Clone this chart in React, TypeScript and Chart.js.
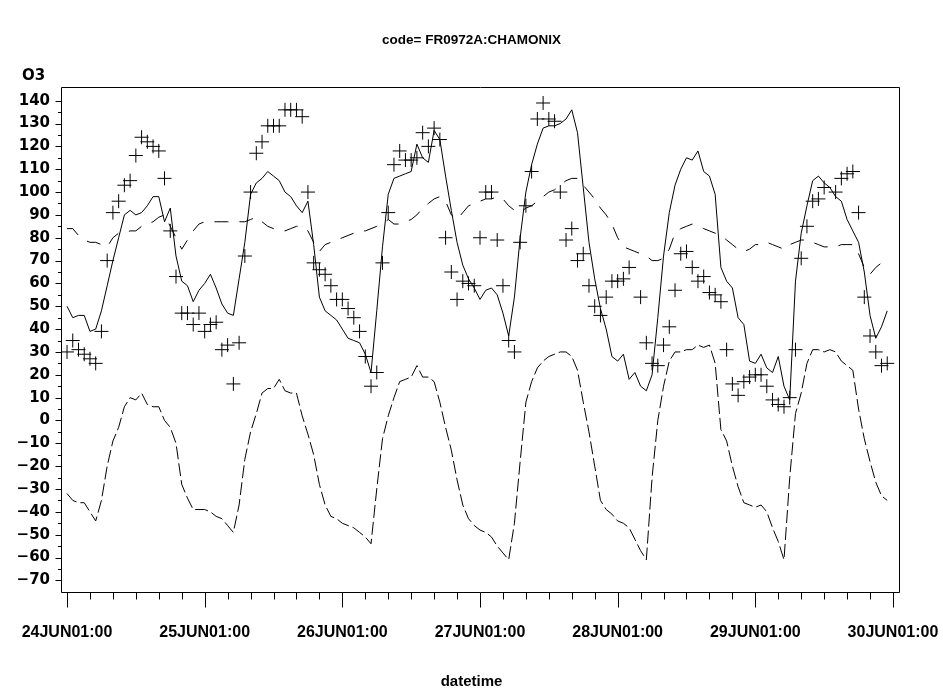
import React, { useEffect, useRef } from 'react';
import { Chart, registerables } from 'chart.js';

Chart.register(...registerables);

// ---- text ----
const TITLE = 'code= FR0972A:CHAMONIX';
const Y_TITLE = 'O3';
const X_TITLE = 'datetime';

// ---- axes ----
const X_TICK_HOURS = [0, 24, 48, 72, 96, 120, 144];
const X_TICK_LABELS = ['24JUN01:00', '25JUN01:00', '26JUN01:00', '27JUN01:00', '28JUN01:00', '29JUN01:00', '30JUN01:00'];
const Y_TICKS = [-70, -60, -50, -40, -30, -20, -10, 0, 10, 20, 30, 40, 50, 60, 70, 80, 90, 100, 110, 120, 130, 140];

// ---- series (hourly, from 24JUN01:00) ----
const predicted = [
  50, 45, 46, 46, 39, 40, 48, 59, 70, 80,
  90, 92, 90, 91, 94, 98, 98, 87, 93, 72,
  61, 59, 52, 57, 60, 64, 58, 51, 47, 46,
  62, 78, 99, 104, 106, 109, 107, 105, 100, 98,
  94, 91, 96, 77, 54, 48, 46, 44, 40, 36,
  35, 34, 29, 21, 48, 76, 99, 106, 107, 108,
  109, 121, 115, 113, 127, 123, 107, 92, 78, 68,
  62, 58, 53, 57, 58, 55, 47, 37, 54, 80,
  100, 112, 121, 128, 129, 129, 130, 132, 136, 126,
  102, 78, 62, 49, 40, 28, 26, 29, 18, 21,
  15, 13, 20, 45, 72, 91, 103, 110, 115, 114,
  118, 109, 107, 99, 67, 61, 58, 45, 42, 26,
  25, 29, 23, 21, 28, 15, 9, 61, 82, 94,
  105, 107, 104, 102, 98, 96, 88, 83, 78, 65,
  46, 36, 41, 48,
];

const upperBound = [
  84, 84, 81, 79, 78, 78, 77, 76, 80, 82,
  82, 83, 83, 85, 86, 87, 89, 90, 85, 80,
  75, 79, 83, 86, 87, 87, 87, 87, 87, 87,
  87, 87, 88, 89, 87, 85, 84, 83, 83, 84,
  85, 85, 83, 78, 74, 77, 78, 79, 80, 81,
  82, 83, 83, 84, 85, 86, 88, 86, 86, 87,
  88, 90, 93, 95, 97, 98, 96, 90, 88, 91,
  94, 95, 96, 97, 97, 98, 97, 94, 92, 91,
  93, 94, 96, 98, 100, 101, 103, 105, 106, 106,
  103, 100, 97, 93, 90, 86, 80, 76, 75, 74,
  73, 72, 70, 70, 71, 75, 82, 84, 85, 86,
  85, 84, 83, 82, 81, 79, 77, 75, 74, 75,
  77, 77, 78, 77, 76, 75, 77, 78, 79, 79,
  78, 77, 76, 76, 76, 77, 77, 77, 73, 67,
  64, 67, 69, 70,
];

const lowerBound = [
  -32, -35, -36, -36, -40, -44, -35, -20, -9, -3,
  6, 10, 9, 12, 7, 6, 6, 0, -3, -10,
  -28, -34, -39, -39, -39, -40, -42, -43, -46, -49,
  -37, -17, -5, 3, 12, 14, 14, 18, 13, 12,
  12, 2, -6, -15, -28, -37, -42, -43, -45, -46,
  -47, -49, -51, -54, -30, -8, 2, 10, 17, 18,
  19, 24, 19, 19, 17, 8, -3, -13, -26, -37,
  -43, -46, -48, -49, -51, -55, -58, -61, -45, -18,
  8, 17, 23, 26, 28, 29, 30, 30, 28, 22,
  8, -5, -20, -35, -39, -41, -44, -45, -47, -52,
  -57, -61, -25, 0, 15, 26, 30, 30, 31, 31,
  33, 32, 33, 25, -4, -9, -20, -29, -36, -37,
  -38, -37, -40, -47, -53, -61, -25, 3, 12, 25,
  31, 31, 30, 31, 30, 26, 24, 22, 5, -8,
  -18, -27, -33, -35,
];

const observed: (number | null)[] = [
  30, 35, 31, 29, 27, 25, 39, 70, 91, 96,
  103, 105, 116, 124, 122, 120, 118, 106, 83, 63,
  47, 47, 42, 47, 39, 42, 43, 31, 33, 16,
  34, 72, 100, 117, 122, 129, 129, 129, 136, 136,
  136, 133, 100, 69, 66, 64, 59, 53, 53, 49,
  45, 39, 28, 15, 21, 69, 91, 112, 118, 114,
  114, 115, 126, 120, 128, 123, 80, 65, 53, 61,
  60, 59, 80, 100, 100, 79, 59, 35, 30, 78,
  94, 109, 132, 139, 132, 131, 100, 79, 84, 70,
  73, 59, 50, 46, 54, 61, 61, 62, 67, null,
  54, 34, 25, 24, 33, 41, 57, 73, 74, 67,
  61, 63, 56, 55, 52, 31, 16, 11, 17, 19,
  20, 20, 15, 9, 7, 6, 10, 31, 71, 85,
  96, 97, 102, null, 100, 106, 108, 109, 91, 54,
  37, 30, 24, 25,
];

const W = 943;
const H = 690;

export default function App() {
  const ref = useRef<HTMLCanvasElement | null>(null);

  useEffect(() => {
    const canvas = ref.current;
    if (!canvas) return;
    const hours = predicted.map((_, i) => i);
    const pts = (arr: (number | null)[]) => arr.map((v, i) => ({ x: hours[i], y: v }));

    const sasPlugin = {
      id: 'sasFrame',
      afterDraw(chart: any) {
        const { ctx, chartArea: a, scales } = chart;
        const xs = scales.x;
        const ys = scales.y;
        ctx.save();
        ctx.strokeStyle = '#000';
        ctx.lineWidth = 1;
        const L = Math.round(a.left) + 0.5;
        const T = Math.round(a.top) + 0.5;
        const R = Math.round(a.right) + 0.5;
        const B = Math.round(a.bottom) + 0.5;
        ctx.beginPath();
        ctx.moveTo(L, T); ctx.lineTo(R, T); ctx.lineTo(R, B); ctx.lineTo(L, B); ctx.closePath();
        // y ticks
        for (let i = 0; i < Y_TICKS.length; i++) {
          const y = Math.round(ys.getPixelForValue(Y_TICKS[i])) + 0.5;
          ctx.moveTo(L - 6, y); ctx.lineTo(L, y);
          if (i < Y_TICKS.length - 1) {
            const ym = Math.round(ys.getPixelForValue((Y_TICKS[i] + Y_TICKS[i + 1]) / 2)) + 0.5;
            ctx.moveTo(L - 3.5, ym); ctx.lineTo(L, ym);
          }
        }
        // x ticks
        for (let t = 0; t < X_TICK_HOURS.length; t++) {
          const x = Math.round(xs.getPixelForValue(X_TICK_HOURS[t])) + 0.5;
          ctx.moveTo(x, B); ctx.lineTo(x, B + 15);
          if (t < X_TICK_HOURS.length - 1) {
            const step = (X_TICK_HOURS[t + 1] - X_TICK_HOURS[t]) / 6;
            for (let k = 1; k < 6; k++) {
              const xm = Math.round(xs.getPixelForValue(X_TICK_HOURS[t] + k * step)) + 0.5;
              ctx.moveTo(xm, B); ctx.lineTo(xm, B + 7);
            }
          }
        }
        ctx.stroke();

        ctx.fillStyle = '#000';
        ctx.textAlign = 'center';
        ctx.textBaseline = 'middle';
        ctx.font = 'bold 13.5px "Liberation Sans", Arial, sans-serif';
        ctx.fillText(TITLE, W / 2, 40);
        ctx.font = 'bold 15px "Liberation Sans", Arial, sans-serif';
        ctx.fillText(X_TITLE, W / 2, 682);
        ctx.textAlign = 'left';
        ctx.font = 'bold 15px "DejaVu Sans", sans-serif';
        ctx.fillText(Y_TITLE, 22, 76);
        ctx.restore();
      },
    };

    const lineBase = {
      borderColor: '#000',
      borderWidth: 1,
      pointRadius: 0,
      tension: 0,
      fill: false,
    };

    const chart = new Chart(canvas, {
      type: 'line',
      data: {
        datasets: [
          { ...lineBase, label: 'predicted', data: pts(predicted) },
          { ...lineBase, label: 'upper', data: pts(upperBound), borderDash: [14, 11] },
          { ...lineBase, label: 'lower', data: pts(lowerBound), borderDash: [13, 4] },
          {
            label: 'O3',
            data: pts(observed),
            showLine: false,
            pointStyle: 'cross',
            pointRadius: 7,
            pointBorderWidth: 1,
            pointBorderColor: '#000',
            pointBackgroundColor: '#000',
          },
        ],
      } as any,
      options: {
        responsive: false,
        animation: false,
        devicePixelRatio: 1,
        layout: { padding: { top: 87, right: 44, bottom: 0, left: 0 } },
        plugins: {
          legend: { display: false },
          tooltip: { enabled: false },
          title: { display: false },
        },
        scales: {
          x: {
            type: 'linear',
            min: -1.05,
            max: 145.05,
            afterBuildTicks: (s: any) => {
              s.ticks = X_TICK_HOURS.map((v) => ({ value: v }));
            },
            afterFit: (s: any) => {
              s.height = 98;
              s.paddingLeft = 0;
              s.paddingRight = 0;
            },
            ticks: {
              autoSkip: false,
              maxRotation: 0,
              minRotation: 0,
              padding: 31,
              color: '#000',
              font: { family: '"Liberation Sans", Arial, sans-serif', size: 16, weight: 'bold' },
              callback: (v: any) => {
                const i = X_TICK_HOURS.indexOf(Number(v));
                return i >= 0 ? X_TICK_LABELS[i] : '';
              },
            },
            grid: { display: false, drawTicks: false },
            border: { display: false },
          },
          y: {
            type: 'linear',
            min: -75.1,
            max: 146,
            afterBuildTicks: (s: any) => {
              s.ticks = Y_TICKS.map((v) => ({ value: v }));
            },
            afterFit: (s: any) => {
              s.width = 61;
              s.paddingTop = 0;
              s.paddingBottom = 0;
            },
            ticks: {
              autoSkip: false,
              padding: 11,
              color: '#000',
              font: { family: '"DejaVu Sans", sans-serif', size: 15, weight: 'bold' },
              callback: (v: any) => {
                const n = Number(v);
                return n < 0 ? '\u2212' + Math.abs(n) : String(n);
              },
            },
            grid: { display: false, drawTicks: false },
            border: { display: false },
          },
        },
      } as any,
      plugins: [sasPlugin],
    });

    return () => chart.destroy();
  }, []);

  return (
    <div style={{ position: 'fixed', left: 0, top: 0, width: W, height: H, background: '#fff' }}>
      <canvas ref={ref} width={W} height={H} style={{ width: W, height: H, display: 'block' }} />
    </div>
  );
}
